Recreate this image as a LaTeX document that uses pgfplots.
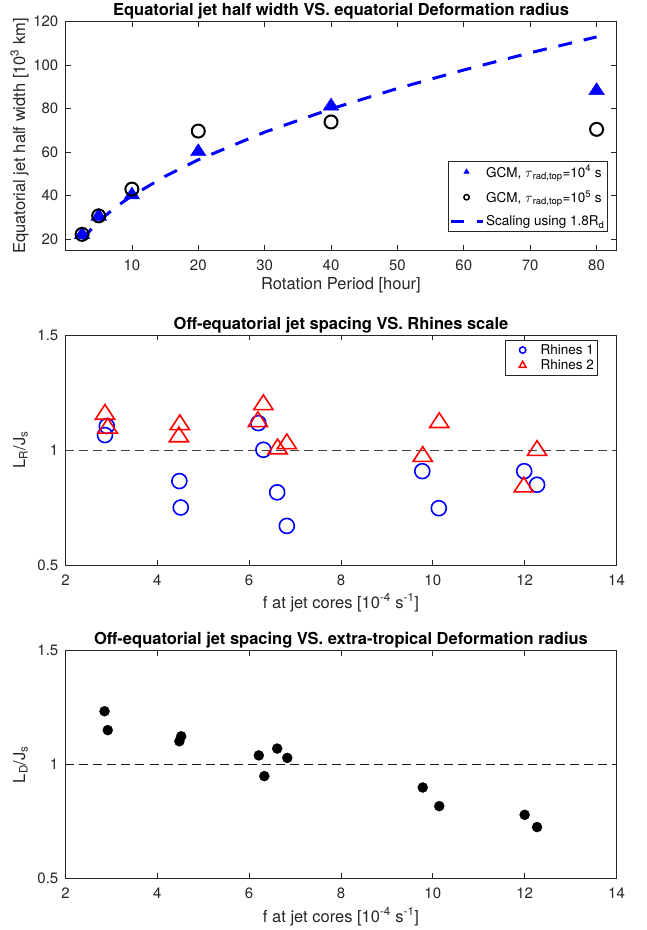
\documentclass[border=0pt]{standalone}
\usepackage{fontspec}
\setmainfont{TeX Gyre Heros}
\usepackage{pgfplots}
\pgfplotsset{compat=1.18}
\newcommand\tickfont{\fontsize{15}{18}\selectfont}
\newcommand\labelfont{\fontsize{16.5}{19}\selectfont}
\newcommand\titlefont{\fontsize{16.5}{19}\selectfont\bfseries}
\newcommand\legendfont{\fontsize{13.5}{16}\selectfont}
\pgfplotsset{
  mylegimg/.style={legend image code/.code={\path[draw=none,fill=none] (0pt,-1pt) rectangle (32pt,1pt); \draw[##1] plot coordinates {(0pt,0pt) (32pt,0pt)};}},
  mymarkimg/.style={legend image code/.code={\path[draw=none,fill=none] (0pt,-1pt) rectangle (32pt,1pt); \draw[##1, only marks] plot coordinates {(16pt,0pt)};}},
}
\pgfplotsset{myax/.style={
  scale only axis, width=551pt,
  tick align=inside, major tick length=5pt,
  axis line style={black!85,line width=0.7pt},
  every tick/.style={black!85,line width=0.7pt},
  tick label style={font=\tickfont, text=black!85},
  /pgf/number format/assume math mode=true,
  xticklabel style={anchor=north, inner sep=0pt, yshift=-9.5pt},
  yticklabel style={anchor=east, inner sep=0pt, xshift=-7pt},
  label style={font=\labelfont, text=black!85},
  title style={font=\titlefont, at={(axis description cs:0.5,1)}, anchor=base, yshift=0pt},
  legend cell align=left,
  legend style={font=\legendfont, draw=black!85, line width=0.6pt, fill=white, inner xsep=1pt, inner ysep=2pt},
}}
\begin{document}
\begin{tikzpicture}
% ---------- top ----------
\begin{axis}[myax, at={(65.5pt,-21.7pt)}, anchor=north west, height=228.3pt,
  xmin=0, xmax=83, ymin=15, ymax=120,
  xtick={10,20,...,80}, ytick={20,40,...,120},
  title={Equatorial jet half width VS. equatorial Deformation radius},
  xlabel={Rotation Period [hour]},
  ylabel={Equatorial jet half width [10\textsuperscript{3} km]},
  xlabel style={at={(axis description cs:0.5,-0.171)}, anchor=base},
  ylabel style={at={(axis description cs:-0.0735,0.5)}, anchor=base},
  legend style={at={(0.984,0.080)}, anchor=south east, row sep=8pt},
]
\addplot[forget plot, only marks, mark=triangle*, color=blue, mark size=8pt, mark options={xscale=1.13}]
  coordinates {(2.5,22.0) (5,30.5) (10,40.3) (20,60.2) (40,81.2) (80,88.3)};
\addplot[forget plot, only marks, mark=o, color=black, mark size=6.5pt, line width=2pt]
  coordinates {(2.5,22.2) (5,30.7) (10,43.0) (20,69.7) (40,73.9) (80,70.5)};
\addplot[forget plot, blue, line width=3pt, dash pattern=on 14pt off 12pt]
  coordinates {(2.5,20.0) (5,28.2) (7.5,34.6) (10,39.9) (15,48.9) (20,56.5) (30,69.2) (40,79.9) (50,89.3) (60,97.8) (70,105.7) (80,113.0)};
\addlegendimage{mark=triangle*, blue, mark size=3pt, mymarkimg}
\addlegendentry{GCM, $\tau$\textsubscript{rad,top}=10\textsuperscript{4} s}
\addlegendimage{mark=o, black, mark size=2.7pt, line width=1.5pt, mymarkimg}
\addlegendentry{GCM, $\tau$\textsubscript{rad,top}=10\textsuperscript{5} s}
\addlegendimage{blue, line width=3pt, dash pattern=on 13pt off 13pt, mylegimg}
\addlegendentry{Scaling using 1.8R\textsubscript{d}}
\end{axis}
% ---------- middle ----------
\begin{axis}[myax, at={(65.5pt,-335pt)}, anchor=north west, height=230pt,
  xmin=2, xmax=14, ymin=0.5, ymax=1.5,
  xtick={2,4,...,14}, ytick={0.5,1,1.5},
  title={Off-equatorial jet spacing VS. Rhines scale},
  xlabel={f at jet cores [10\textsuperscript{-4} s\textsuperscript{-1}]},
  ylabel={L\textsubscript{R}/J\textsubscript{s}},
  xlabel style={at={(axis description cs:0.5,-0.187)}, anchor=base},
  ylabel style={at={(axis description cs:-0.0735,0.5)}, anchor=base},
  legend style={at={(0.965,0.978)}, anchor=north east, row sep=0pt},
]
\addplot[forget plot, black!75, line width=0.9pt, dash pattern=on 9pt off 5pt] coordinates {(2,1) (14,1)};
\addplot[forget plot, only marks, mark=o, blue, mark size=7.5pt, line width=1.6pt]
  coordinates {(2.86,1.065) (2.90,1.104) (4.48,0.865) (4.51,0.750) (6.20,1.117) (6.31,1.001) (6.61,0.816) (6.82,0.670) (9.77,0.908) (10.13,0.747) (11.99,0.908) (12.27,0.849)};
\addplot[forget plot, only marks, mark=triangle, red, mark size=9.8pt, line width=1.6pt, mark options={xscale=1.13}]
  coordinates {(2.86,1.155) (2.92,1.095) (4.49,1.110) (4.47,1.057) (6.31,1.197) (6.19,1.123) (6.62,1.005) (6.82,1.027) (9.78,0.972) (10.14,1.119) (11.98,0.839) (12.27,0.998)};
\addlegendimage{mark=o, blue, mark size=3.2pt, line width=1.5pt, mymarkimg}
\addlegendentry{Rhines 1}
\addlegendimage{mark=triangle, red, mark size=4pt, line width=1.5pt, mymarkimg}
\addlegendentry{Rhines 2}
\end{axis}
% ---------- bottom ----------
\begin{axis}[myax, at={(65.5pt,-650.7pt)}, anchor=north west, height=227.6pt,
  xmin=2, xmax=14, ymin=0.5, ymax=1.5,
  xtick={2,4,...,14}, ytick={0.5,1,1.5},
  title={Off-equatorial jet spacing VS. extra-tropical Deformation radius},
  xlabel={f at jet cores [10\textsuperscript{-4} s\textsuperscript{-1}]},
  ylabel={L\textsubscript{D}/J\textsubscript{s}},
  xlabel style={at={(axis description cs:0.5,-0.192)}, anchor=base},
  ylabel style={at={(axis description cs:-0.0735,0.5)}, anchor=base},
]
\addplot[black!90, line width=0.9pt, dash pattern=on 9pt off 5pt] coordinates {(2,1) (14,1)};
\addplot[only marks, mark=*, black, mark size=5pt]
  coordinates {(2.85,1.234) (2.92,1.151) (4.48,1.102) (4.52,1.124) (6.21,1.040) (6.33,0.949) (6.61,1.070) (6.83,1.029) (9.78,0.899) (10.14,0.817) (12.00,0.779) (12.27,0.725)};
\end{axis}
\pgfresetboundingbox
\path[use as bounding box] (0,0) rectangle (646pt,-930pt);
\end{tikzpicture}
\end{document}
